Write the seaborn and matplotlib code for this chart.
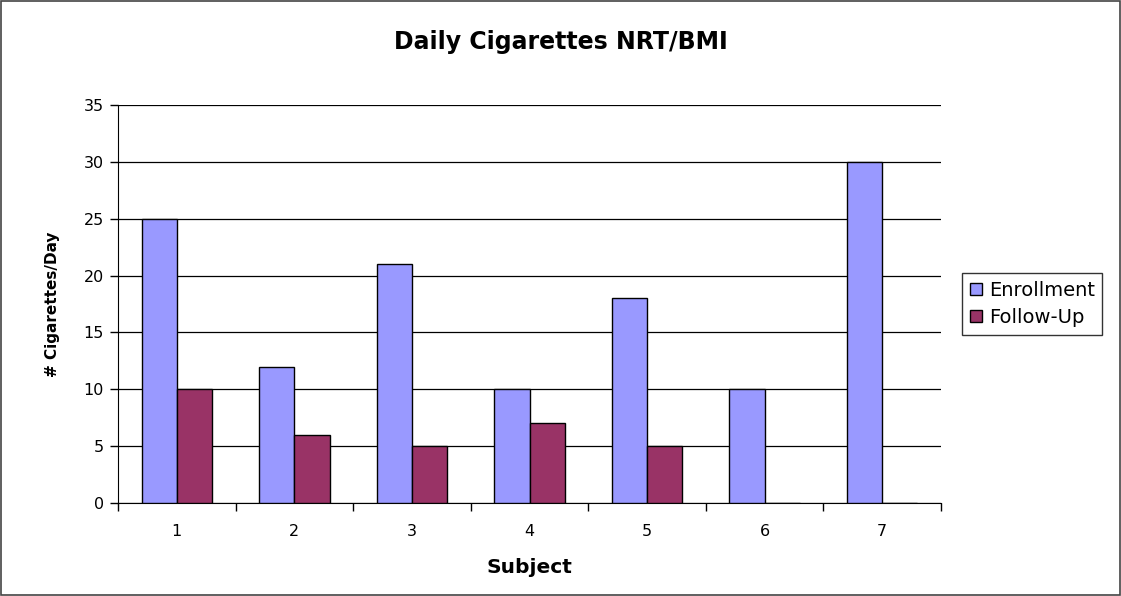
import numpy as np
import pandas as pd
import seaborn as sns
import matplotlib.pyplot as plt
from matplotlib.ticker import FixedLocator

subjects = ['1', '2', '3', '4', '5', '6', '7']
enrollment = [25, 12, 21, 10, 18, 10, 30]
follow_up = [10, 6, 5, 7, 5, 0, 0]
series = ['Enrollment', 'Follow-Up']
colors = ['#9999FF', '#993366']

df = pd.DataFrame({
    'Subject': subjects * 2,
    'Value': enrollment + follow_up,
    'Series': [series[0]] * len(subjects) + [series[1]] * len(subjects),
})

sns.set_style('white')
plt.rcParams['font.family'] = ['DejaVu Sans']
plt.rcParams['text.color'] = 'black'
plt.rcParams['axes.labelcolor'] = 'black'
plt.rcParams['xtick.color'] = 'black'
plt.rcParams['ytick.color'] = 'black'

fig = plt.figure(figsize=(11.21, 5.96), dpi=100)
# plot area: x 118-941 px, y 105-503 px
ax = fig.add_axes([118 / 1121, 93 / 596, 823 / 1121, 398 / 596])

sns.barplot(data=df, x='Subject', y='Value', hue='Series', order=subjects,
            hue_order=series, palette=colors, width=0.6, saturation=1,
            edgecolor='black', linewidth=1, ax=ax, zorder=3)

ax.set_ylim(0, 35)
ax.set_yticks(range(0, 36, 5))
ax.set_xlim(-0.5, len(subjects) - 0.5)
ax.yaxis.grid(True, color='black', linewidth=0.9, zorder=0)
ax.set_axisbelow(True)

for side in ['top', 'right']:
    ax.spines[side].set_visible(False)
ax.spines['left'].set_color('black')
ax.spines['bottom'].set_color('black')

ax.tick_params(axis='y', which='major', length=6, width=1, color='black',
               direction='out', labelsize=11.5, pad=4, left=True)
ax.tick_params(axis='x', which='major', length=0, labelsize=11.5, pad=15)
ax.xaxis.set_minor_locator(FixedLocator(np.arange(-0.5, len(subjects), 1.0)))
ax.tick_params(axis='x', which='minor', length=6, width=1, color='black',
               direction='out', bottom=True)

ax.set_xlabel('Subject', fontsize=14.5, fontweight='bold', va='center')
ax.xaxis.set_label_coords(0.5, -0.161)
ax.set_ylabel('# Cigarettes/Day', fontsize=11, fontweight='bold',
              va='center')
ax.yaxis.set_label_coords(-0.080, 0.5)

fig.text(0.5, 1 - 42 / 596, 'Daily Cigarettes NRT/BMI', ha='center',
         va='center', fontsize=17, fontweight='bold')

handles, labels = ax.get_legend_handles_labels()
ax.legend(handles, labels, loc='center left', bbox_to_anchor=(1.026, 0.5),
          frameon=True, fancybox=False, edgecolor='black', fontsize=14,
          handlelength=0.6, handleheight=0.6, handletextpad=0.35,
          borderpad=0.4, labelspacing=0.4, borderaxespad=0)

fig.patches.append(plt.Rectangle((0.001, 0.001), 0.998, 0.998,
                                 transform=fig.transFigure, fill=False,
                                 edgecolor='#444444', linewidth=1.2))

fig.savefig('out.png', dpi=100)
